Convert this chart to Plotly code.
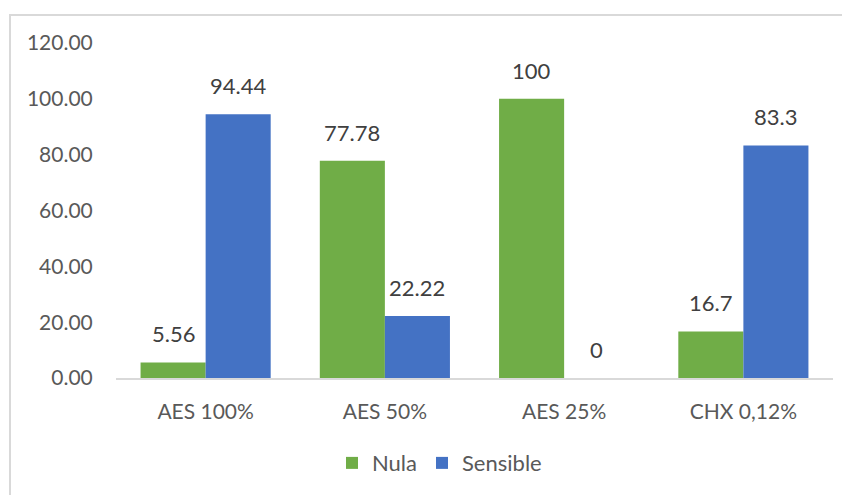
import plotly.graph_objects as go

categories = ["AES 100%", "AES 50%", "AES 25%", "CHX 0,12%"]
nula = [5.56, 77.78, 100, 16.7]
sensible = [94.44, 22.22, 0, 83.3]
nula_labels = ["5.56", "77.78", "100", "16.7"]
sensible_labels = ["94.44", "22.22", "0", "83.3"]
y_ticks = [0, 20, 40, 60, 80, 100, 120]
y_ticktext = ["0.00", "20.00", "40.00", "60.00", "80.00", "100.00", "120.00"]

FONT = "Lato"
GREEN = "#70AD47"
BLUE = "#4472C4"

fig = go.Figure()
fig.add_trace(go.Bar(name="Nula", x=categories, y=nula, marker_color=GREEN,
                     marker_line_width=0))
fig.add_trace(go.Bar(name="Sensible", x=categories, y=sensible, marker_color=BLUE,
                     marker_line_width=0))

annotations = []
for cat, v, t in zip(categories, nula, nula_labels):
    annotations.append(dict(x=cat, y=v, text=t, xshift=-32.5, yshift=13, showarrow=False,
                            yanchor="bottom", font=dict(family=FONT, size=22, color="#404040")))
for cat, v, t in zip(categories, sensible, sensible_labels):
    annotations.append(dict(x=cat, y=v, text=t, xshift=32.5, yshift=13, showarrow=False,
                            yanchor="bottom", font=dict(family=FONT, size=22, color="#404040")))

fig.update_layout(
    width=850, height=495,
    margin=dict(l=108, r=25, t=35, b=125, autoexpand=False),
    paper_bgcolor="white", plot_bgcolor="white",
    barmode="group", bargap=0.274, bargroupgap=0,
    font=dict(family=FONT, size=21, color="#595959"),
    showlegend=True,
    legend=dict(orientation="h", x=(332 - 116) / 717, xanchor="left", y=-0.254, yanchor="middle",
                font=dict(family=FONT, size=22, color="#595959"),
                itemwidth=30, traceorder="normal"),
    annotations=annotations,
    shapes=[dict(type="rect", xref="paper", yref="paper",
                 x0=(2 - 108) / 717, x1=1.2, y0=-0.6, y1=(370 - 7) / 335,
                 line=dict(color="#d9d9d9", width=2), fillcolor="rgba(0,0,0,0)",
                 layer="below")],
)
fig.update_xaxes(showline=True, linecolor="#d9d9d9", linewidth=2, showgrid=False,
                 ticks="outside", ticklen=14, tickcolor="rgba(0,0,0,0)",
                 tickfont=dict(family=FONT, size=21, color="#595959"))
fig.update_yaxes(range=[0, 120], tickvals=y_ticks, ticktext=y_ticktext, showgrid=False,
                 zeroline=False, showline=False, ticks="outside", ticklen=18,
                 tickcolor="rgba(0,0,0,0)",
                 tickfont=dict(family=FONT, size=21, color="#595959"))

fig.write_html("out.html")
